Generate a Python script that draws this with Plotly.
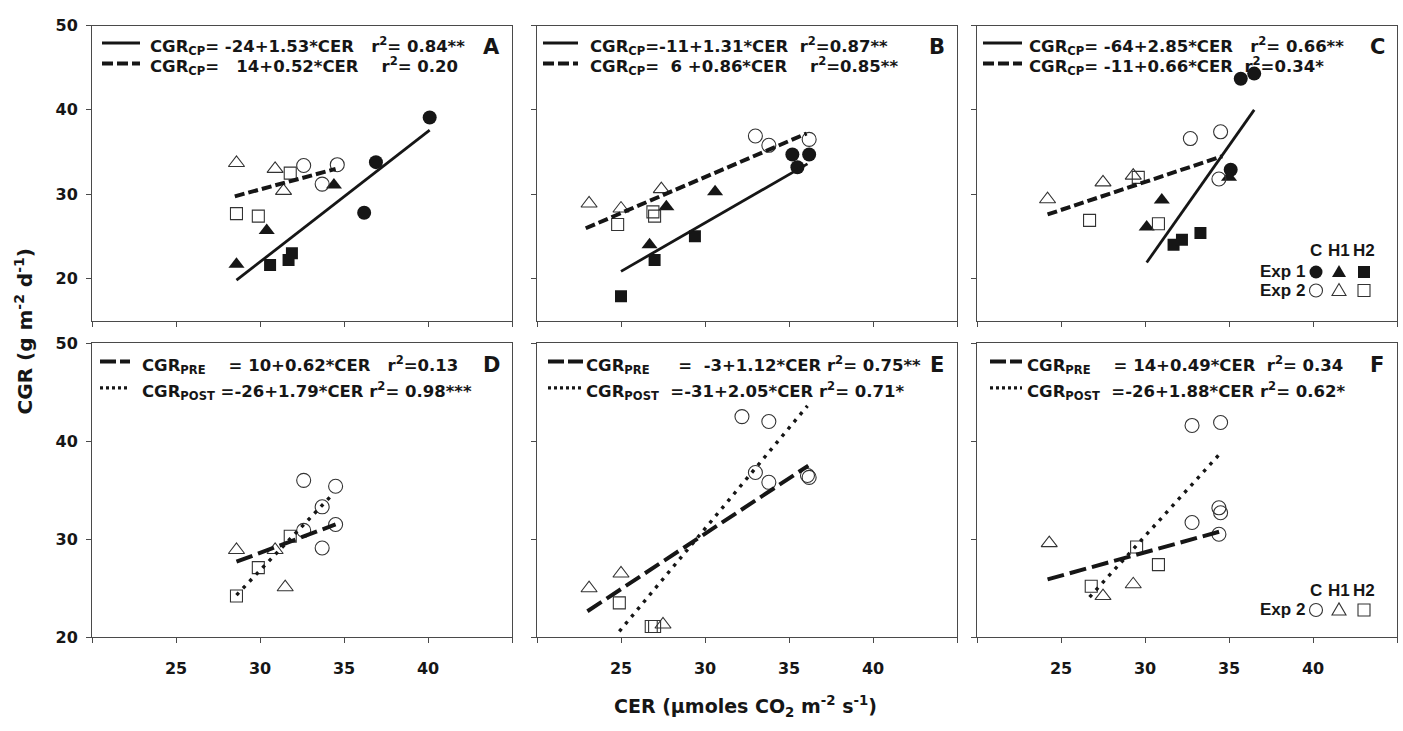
import plotly.graph_objects as go

W, H = 1403, 731

# ---------------- data (CER on x, CGR on y) ----------------
# Panel A
a_e1_c_x = [40.1, 36.9, 36.2]; a_e1_c_y = [39.1, 33.8, 27.8]
a_e1_h1_x = [28.6, 30.4, 34.4]; a_e1_h1_y = [21.7, 25.7, 31.1]
a_e1_h2_x = [30.6, 31.7, 31.9]; a_e1_h2_y = [21.6, 22.2, 23.0]
a_e2_c_x = [32.6, 34.6, 33.7]; a_e2_c_y = [33.4, 33.5, 31.2]
a_e2_h1_x = [28.6, 30.9, 31.4]; a_e2_h1_y = [33.7, 33.0, 30.4]
a_e2_h2_x = [28.6, 29.9, 31.8]; a_e2_h2_y = [27.7, 27.4, 32.5]
a_fit1_x = [28.6, 40.1]; a_fit1_y = [19.8, 37.6]
a_fit2_x = [28.5, 34.5]; a_fit2_y = [29.75, 33.0]

# Panel B
b_e1_c_x = [35.2, 35.5, 36.2]; b_e1_c_y = [34.7, 33.2, 34.7]
b_e1_h1_x = [26.7, 27.7, 30.6]; b_e1_h1_y = [24.0, 28.5, 30.3]
b_e1_h2_x = [25.0, 27.0, 29.4]; b_e1_h2_y = [17.9, 22.2, 25.0]
b_e2_c_x = [33.0, 33.8, 36.2]; b_e2_c_y = [36.9, 35.8, 36.5]
b_e2_h1_x = [23.1, 25.0, 27.4]; b_e2_h1_y = [28.9, 28.3, 30.6]
b_e2_h2_x = [24.8, 26.9, 27.0]; b_e2_h2_y = [26.4, 27.9, 27.4]
b_fit1_x = [25.0, 36.1]; b_fit1_y = [20.85, 33.6]
b_fit2_x = [22.9, 36.05]; b_fit2_y = [25.96, 37.2]

# Panel C
c_e1_c_x = [35.7, 36.5, 35.1]; c_e1_c_y = [43.7, 44.3, 32.9]
c_e1_h1_x = [30.1, 31.0, 35.0]; c_e1_h1_y = [26.1, 29.3, 32.0]
c_e1_h2_x = [31.7, 32.2, 33.3]; c_e1_h2_y = [24.0, 24.6, 25.4]
c_e2_c_x = [32.7, 34.5, 34.4]; c_e2_c_y = [36.6, 37.4, 31.8]
c_e2_h1_x = [24.2, 27.5, 29.3]; c_e2_h1_y = [29.4, 31.4, 32.2]
c_e2_h2_x = [26.7, 29.6, 30.8]; c_e2_h2_y = [26.9, 32.0, 26.5]
c_fit1_x = [30.1, 36.5]; c_fit1_y = [21.9, 40.0]
c_fit2_x = [24.2, 34.6]; c_fit2_y = [27.6, 34.5]

# Panel D (Exp 2)
d_c_x = [32.6, 34.5, 33.7, 32.6, 34.5, 33.7]; d_c_y = [36.0, 35.4, 33.3, 30.9, 31.5, 29.1]
d_h1_x = [28.6, 30.9, 31.5]; d_h1_y = [28.9, 28.9, 25.1]
d_h2_x = [28.6, 29.9, 31.8]; d_h2_y = [24.2, 27.1, 30.3]
d_pre_x = [28.6, 34.5]; d_pre_y = [27.7, 31.5]
d_post_x = [28.6, 34.2]; d_post_y = [24.3, 34.35]

# Panel E (Exp 2)
e_c_x = [32.2, 33.8, 33.0, 33.8, 36.2, 36.1]; e_c_y = [42.5, 42.0, 36.8, 35.8, 36.3, 36.5]
e_h1_x = [23.1, 25.0, 27.5]; e_h1_y = [25.0, 26.5, 21.3]
e_h2_x = [24.9, 26.8, 27.0]; e_h2_y = [23.5, 21.1, 21.1]
e_pre_x = [23.0, 36.15]; e_pre_y = [22.65, 37.5]
e_post_x = [24.9, 36.1]; e_post_y = [20.6, 43.6]

# Panel F (Exp 2)
f_c_x = [32.8, 34.5, 34.4, 34.5, 32.8, 34.4]; f_c_y = [41.6, 41.9, 33.2, 32.7, 31.7, 30.5]
f_h1_x = [24.3, 27.5, 29.3]; f_h1_y = [29.6, 24.2, 25.4]
f_h2_x = [26.8, 29.5, 30.8]; f_h2_y = [25.2, 29.2, 27.4]
f_pre_x = [24.2, 34.5]; f_pre_y = [25.9, 30.8]
f_post_x = [26.7, 34.4]; f_post_y = [24.1, 38.6]

x_ticks = [20, 25, 30, 35, 40, 45]
x_ticktext = ["", "25", "30", "35", "40", ""]
y_ticks = [20, 30, 40, 50]
top_y_range = [15, 50]
bot_y_range = [20, 50]
x_range = [20, 45]

NB = "\u00a0"
eq_rows = {
    1: ["CGR<sub>CP</sub>= -24+1.53*CER" + NB * 3 + "r<sup>2</sup>= 0.84**",
        "CGR<sub>CP</sub>=" + NB * 3 + "14+0.52*CER" + NB * 4 + "r<sup>2</sup>= 0.20"],
    2: ["CGR<sub>CP</sub>=-11+1.31*CER" + NB * 2 + "r<sup>2</sup>=0.87**",
        "CGR<sub>CP</sub>=" + NB * 2 + "6 +0.86*CER" + NB * 4 + "r<sup>2</sup>=0.85**"],
    3: ["CGR<sub>CP</sub>= -64+2.85*CER" + NB * 3 + "r<sup>2</sup>= 0.66**",
        "CGR<sub>CP</sub>= -11+0.66*CER" + NB * 2 + "r<sup>2</sup>=0.34*"],
    4: ["CGR<sub>PRE</sub>" + NB * 4 + "=" + NB + "10+0.62*CER" + NB * 3 + "r<sup>2</sup>=0.13",
        "CGR<sub>POST</sub>" + NB + "=-26+1.79*CER" + NB + "r<sup>2</sup>= 0.98***"],
    5: ["CGR<sub>PRE</sub>" + NB * 5 + "=" + NB * 2 + "-3+1.12*CER" + NB + "r<sup>2</sup>= 0.75**",
        "CGR<sub>POST</sub>" + NB * 2 + "=-31+2.05*CER" + NB + "r<sup>2</sup>= 0.71*"],
    6: ["CGR<sub>PRE</sub>" + NB * 4 + "=" + NB + "14+0.49*CER" + NB * 2 + "r<sup>2</sup>= 0.34",
        "CGR<sub>POST</sub>" + NB * 2 + "=-26+1.88*CER" + NB + "r<sup>2</sup>= 0.62*"],
}
panel_letters = ["A", "B", "C", "D", "E", "F"]

# ---------------- layout geometry (pixels) ----------------
cols_px = [(92, 512), (537, 957), (977, 1397)]
rows_px = [(17, 320), (343, 645)]


def fx(p):
    return p / W


def fy(p):
    return 1 - p / H


INK = "#161616"
AXC = "#4a4a4a"
FONT = "Liberation Sans, Arial, sans-serif"
DFONT = "DejaVu Sans, Verdana, sans-serif"

fig = go.Figure()


def add_markers(ax, x, y, symbol, filled):
    n = "" if ax == 1 else str(ax)
    size = 14 if symbol == "circle" else (12 if symbol == "square" else 14)
    if filled:
        m = dict(symbol=symbol, color=INK, size=size, line=dict(width=0))
    else:
        m = dict(symbol=symbol + "-open", color="#333333", size=size, line=dict(width=1.1))
    fig.add_trace(go.Scatter(x=x, y=y, mode="markers", marker=m, xaxis="x" + n, yaxis="y" + n,
                             showlegend=False, hoverinfo="skip"))


def add_line(ax, x, y, kind):
    n = "" if ax == 1 else str(ax)
    styles = {
        "solid": dict(color=INK, width=2.8, dash="solid"),
        "dash": dict(color=INK, width=4, dash="10px,4px"),
        "longdash": dict(color=INK, width=4, dash="17px,6px"),
        "dot": dict(color=INK, width=3.4, dash="3.4px,6px"),
    }
    fig.add_trace(go.Scatter(x=x, y=y, mode="lines", line=styles[kind], xaxis="x" + n, yaxis="y" + n,
                             showlegend=False, hoverinfo="skip"))


for ax, groups, fits in [
    (1, [(a_e1_c_x, a_e1_c_y, "circle", True), (a_e1_h1_x, a_e1_h1_y, "triangle-up", True),
         (a_e1_h2_x, a_e1_h2_y, "square", True), (a_e2_c_x, a_e2_c_y, "circle", False),
         (a_e2_h1_x, a_e2_h1_y, "triangle-up", False), (a_e2_h2_x, a_e2_h2_y, "square", False)],
     [(a_fit1_x, a_fit1_y, "solid"), (a_fit2_x, a_fit2_y, "dash")]),
    (2, [(b_e1_c_x, b_e1_c_y, "circle", True), (b_e1_h1_x, b_e1_h1_y, "triangle-up", True),
         (b_e1_h2_x, b_e1_h2_y, "square", True), (b_e2_c_x, b_e2_c_y, "circle", False),
         (b_e2_h1_x, b_e2_h1_y, "triangle-up", False), (b_e2_h2_x, b_e2_h2_y, "square", False)],
     [(b_fit1_x, b_fit1_y, "solid"), (b_fit2_x, b_fit2_y, "dash")]),
    (3, [(c_e1_c_x, c_e1_c_y, "circle", True), (c_e1_h1_x, c_e1_h1_y, "triangle-up", True),
         (c_e1_h2_x, c_e1_h2_y, "square", True), (c_e2_c_x, c_e2_c_y, "circle", False),
         (c_e2_h1_x, c_e2_h1_y, "triangle-up", False), (c_e2_h2_x, c_e2_h2_y, "square", False)],
     [(c_fit1_x, c_fit1_y, "solid"), (c_fit2_x, c_fit2_y, "dash")]),
    (4, [(d_c_x, d_c_y, "circle", False), (d_h1_x, d_h1_y, "triangle-up", False),
         (d_h2_x, d_h2_y, "square", False)],
     [(d_pre_x, d_pre_y, "longdash"), (d_post_x, d_post_y, "dot")]),
    (5, [(e_c_x, e_c_y, "circle", False), (e_h1_x, e_h1_y, "triangle-up", False),
         (e_h2_x, e_h2_y, "square", False)],
     [(e_pre_x, e_pre_y, "longdash"), (e_post_x, e_post_y, "dot")]),
    (6, [(f_c_x, f_c_y, "circle", False), (f_h1_x, f_h1_y, "triangle-up", False),
         (f_h2_x, f_h2_y, "square", False)],
     [(f_pre_x, f_pre_y, "longdash"), (f_post_x, f_post_y, "dot")]),
]:
    for gx, gy, sym, filled in groups:
        add_markers(ax, gx, gy, sym, filled)
    for lx, ly, kind in fits:
        add_line(ax, lx, ly, kind)

tickfont = dict(family=DFONT, size=16, color=INK, weight="bold")
layout = dict(width=W, height=H, margin=dict(l=0, r=0, t=0, b=0), autosize=False,
              paper_bgcolor="white", plot_bgcolor="white", showlegend=False)

for i in range(6):
    r, c = divmod(i, 3)
    n = "" if i == 0 else str(i + 1)
    x0, x1 = cols_px[c]
    y0, y1 = rows_px[r]
    layout["xaxis" + n] = dict(
        domain=[fx(x0), fx(x1)], range=x_range, anchor="y" + n,
        tickvals=x_ticks, ticktext=x_ticktext, showticklabels=(r == 1),
        ticks="outside", ticklen=5, tickcolor=AXC, tickwidth=1,
        showline=True, linecolor=AXC, linewidth=1, mirror=True,
        showgrid=False, zeroline=False, tickfont=tickfont, ticklabelstandoff=12)
    layout["yaxis" + n] = dict(
        domain=[fy(y1), fy(y0)], range=top_y_range if r == 0 else bot_y_range, anchor="x" + n,
        tickvals=y_ticks, showticklabels=(c == 0),
        ticks="outside", ticklen=5, tickcolor=AXC, tickwidth=1,
        showline=True, linecolor=AXC, linewidth=1, mirror=True,
        showgrid=False, zeroline=False, tickfont=tickfont, ticklabelstandoff=5)

annotations = []
shapes = []
eqfont = dict(family=DFONT, size=16.5, color=INK, weight="bold")

eq_text_x = {1: 148, 2: 588, 3: 1027, 4: 140, 5: 584, 6: 1025}
sample_x = {1: (102, 140), 2: (543, 578), 3: (983, 1022), 4: (100, 130), 5: (548, 583), 6: (990, 1022)}
row_y = [(35, 56), (35, 56), (35, 56), (362, 389), (362, 389), (362, 389)]
sample_styles_top = [dict(color=INK, width=3, dash="solid"), dict(color=INK, width=4, dash="11px,4px")]
sample_styles_bot = [dict(color=INK, width=4, dash="16px,4px"), dict(color=INK, width=3.4, dash="3px,3px")]
for i in range(6):
    r = i // 3
    yA, yB = row_y[i]
    styles = sample_styles_top if r == 0 else sample_styles_bot
    for k, yy in enumerate((yA, yB)):
        annotations.append(dict(text=eq_rows[i + 1][k], x=fx(eq_text_x[i + 1]), y=fy(yy + 3),
                                xref="paper", yref="paper", xanchor="left", yanchor="middle",
                                showarrow=False, font=eqfont))
        sx0, sx1 = sample_x[i + 1]
        shapes.append(dict(type="line", xref="paper", yref="paper", x0=fx(sx0), x1=fx(sx1),
                           y0=fy(yy), y1=fy(yy), line=styles[k]))

for i, L in enumerate(panel_letters):
    r, c = divmod(i, 3)
    annotations.append(dict(text=L, x=fx(cols_px[c][1] - 20), y=fy(rows_px[r][0] + 22),
                            xref="paper", yref="paper", xanchor="center", yanchor="middle",
                            showarrow=False, font=dict(family=DFONT, size=21, color=INK, weight="bold")))

legfont = dict(family=FONT, size=17, color=INK, weight="bold")
key_x = [1316, 1339, 1364]
key_names = ["C", "H1", "H2"]
key_syms = ["circle", "triangle", "square"]


def key_symbol(kind, cx, cy, filled):
    fill = INK if filled else "rgba(0,0,0,0)"
    lw = 0 if filled else 1.1
    base = dict(xref="paper", yref="paper", xsizemode="pixel", ysizemode="pixel",
                xanchor=fx(cx), yanchor=fy(cy), fillcolor=fill, line=dict(color="#333333", width=lw))
    if kind == "circle":
        shapes.append(dict(type="circle", x0=-6.5, x1=6.5, y0=-6.5, y1=6.5, **base))
    elif kind == "square":
        shapes.append(dict(type="rect", x0=-6, x1=6, y0=-6, y1=6, **base))
    else:
        shapes.append(dict(type="path", path="M -7,-5 L 7,-5 L 0,7 Z", **base))


for header_y, rows in [(248, [("Exp 1", 270, True), ("Exp 2", 289, False)]),
                       (597, [("Exp 2", 617, False)])]:
    for kx, kn in zip(key_x, key_names):
        annotations.append(dict(text=kn, x=fx(kx), y=fy(header_y), xref="paper", yref="paper",
                                xanchor="center", yanchor="middle", showarrow=False, font=legfont))
    for label, ry, filled in rows:
        annotations.append(dict(text=label, x=fx(1307), y=fy(ry), xref="paper", yref="paper",
                                xanchor="right", yanchor="middle", showarrow=False, font=legfont))
        for kx, ks in zip(key_x, key_syms):
            key_symbol(ks, kx, ry, filled)

annotations.append(dict(text="CER (µmoles CO<sub>2</sub> m<sup>-2</sup> s<sup>-1</sup>)",
                        x=fx(745), y=fy(716), xref="paper", yref="paper", xanchor="center",
                        yanchor="middle", showarrow=False,
                        font=dict(family=DFONT, size=19, color=INK, weight="bold")))
annotations.append(dict(text="CGR (g m<sup>-2</sup> d<sup>-1</sup>)", x=fx(24), y=fy(331),
                        xref="paper", yref="paper", xanchor="center", yanchor="middle",
                        textangle=-90, showarrow=False,
                        font=dict(family=DFONT, size=20, color=INK, weight="bold")))

layout["annotations"] = annotations
layout["shapes"] = shapes
fig.update_layout(**layout)
fig.write_html("out.html", config={"displayModeBar": False},
               post_script="document.body.style.margin='0px';")
